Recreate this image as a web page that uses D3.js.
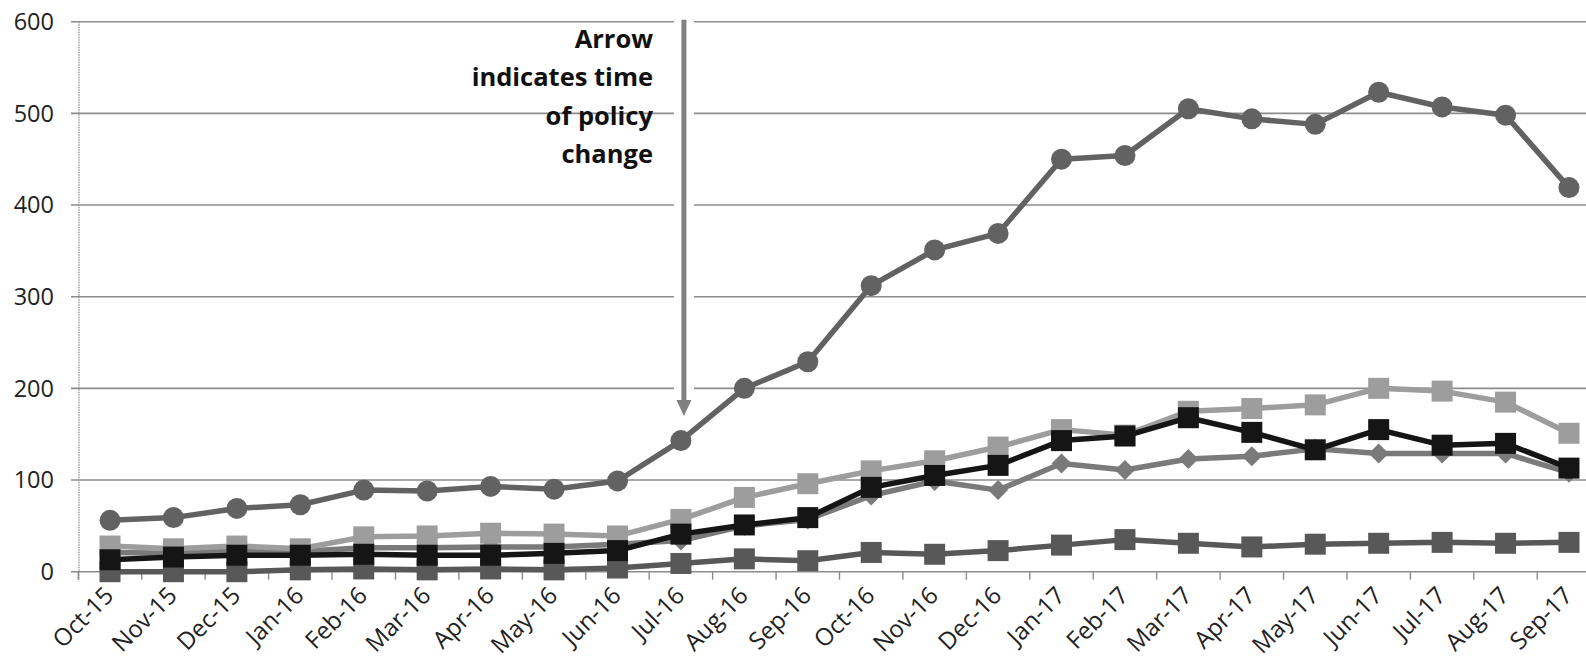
<!DOCTYPE html>
<html>
<head>
<meta charset="utf-8">
<script src="https://cdn.jsdelivr.net/npm/d3@7"></script>
<style>
  html, body { margin: 0; padding: 0; background: #fff; }
  svg { display: block; }
</style>
</head>
<body>
<svg id="chart" width="1586" height="663"></svg>
<script>
const categories = ["Oct-15","Nov-15","Dec-15","Jan-16","Feb-16","Mar-16","Apr-16","May-16","Jun-16","Jul-16","Aug-16","Sep-16","Oct-16","Nov-16","Dec-16","Jan-17","Feb-17","Mar-17","Apr-17","May-17","Jun-17","Jul-17","Aug-17","Sep-17"];
const yTicks = [0, 100, 200, 300, 400, 500, 600];

const circleSeries = [56, 59, 69, 73, 89, 88, 93, 90, 99, 143, 200, 229, 312, 351, 369, 450, 454, 505, 494, 488, 523, 507, 498, 419];
const lightSquares = [28, 25, 28, 25, 38, 39, 42, 41, 39, 57, 81, 96, 110, 121, 136, 155, 149, 175, 178, 182, 200, 197, 185, 151];
const blackSquares = [13, 16, 18, 18, 19, 18, 18, 20, 23, 41, 51, 59, 92, 105, 116, 143, 148, 168, 152, 133, 155, 138, 140, 113];
const diamonds = [21, 20, 23, 22, 26, 26, 27, 27, 30, 34, 50, 57, 83, 99, 89, 118, 111, 123, 126, 134, 129, 129, 129, 108];
const bottomSquares = [0, 0, 0, 2, 3, 2, 3, 2, 4, 9, 14, 12, 21, 19, 23, 29, 35, 31, 27, 30, 31, 32, 31, 32];

const annotationLines = ["Arrow", "indicates time", "of policy", "change"];
const policyMonth = "Jul-16";

const svg = d3.select("#chart");
const font = "'Open Sans', 'DejaVu Sans', sans-serif";

const x = d3.scaleBand().domain(categories).range([78.3, 1600.7]).padding(0);
const y = d3.scaleLinear().domain([0, 600]).range([571.7, 21.7]);
const cx = d => x(d) + x.bandwidth() / 2;

// gridlines
const grid = svg.append("g");
grid.selectAll("line").data(yTicks).join("line")
  .attr("x1", 71).attr("x2", 1600)
  .attr("y1", d => y(d)).attr("y2", d => y(d))
  .attr("stroke", "#8c8c8c").attr("stroke-width", 1.6);

// y labels
svg.append("g").selectAll("text").data(yTicks).join("text")
  .attr("x", 54).attr("y", d => y(d)).attr("dy", "0.36em")
  .attr("text-anchor", "end")
  .attr("font-family", font).attr("font-size", 23.5).attr("fill", "#222")
  .text(d => d);

// y axis line
svg.append("line").attr("x1", 79).attr("x2", 79).attr("y1", y(600)).attr("y2", y(0) + 8)
  .attr("stroke", "#999").attr("stroke-width", 1.4).attr("stroke-dasharray", "1.5,1");

// x ticks between categories
const bounds = categories.map(c => x(c)).concat([x(categories[categories.length-1]) + x.bandwidth()]);
svg.append("g").selectAll("line").data(bounds).join("line")
  .attr("x1", d => d).attr("x2", d => d)
  .attr("y1", y(0)).attr("y2", y(0) + 8)
  .attr("stroke", "#8c8c8c").attr("stroke-width", 1.4);

// x labels
svg.append("g").selectAll("text").data(categories).join("text")
  .attr("transform", d => `translate(${cx(d) + 5},${597}) rotate(-45)`)
  .attr("text-anchor", "end")
  .attr("font-family", font).attr("font-size", 24).attr("fill", "#222")
  .text(d => d);

// arrow annotation
const ax = cx(policyMonth) + 3;
svg.append("rect").attr("x", ax - 10).attr("y", y(600) - 3).attr("width", 20).attr("height", 380).attr("fill", "#fff");
svg.append("line").attr("x1", ax).attr("x2", ax).attr("y1", y(600) - 2).attr("y2", 402)
  .attr("stroke", "#808080").attr("stroke-width", 5);
svg.append("path")
  .attr("d", `M${ax - 7.5},400 L${ax + 7.5},400 L${ax},416 Z`)
  .attr("fill", "#808080");

svg.append("g").selectAll("text").data(annotationLines).join("text")
  .attr("x", 653).attr("y", (d, i) => 48 + i * 38.3)
  .attr("text-anchor", "end")
  .attr("font-family", font).attr("font-weight", 700).attr("font-size", 25.5).attr("fill", "#111")
  .text(d => d);

// series
const line = d3.line().x((d, i) => cx(categories[i])).y(d => y(d));
const series = [
  { vals: diamonds, color: "#7a7a7a", marker: "diamond", lw: 5.5 },
  { vals: bottomSquares, color: "#585858", marker: "square", lw: 5.5 },
  { vals: lightSquares, color: "#9d9d9d", marker: "square", lw: 5.5 },
  { vals: blackSquares, color: "#151515", marker: "square", lw: 5.5 },
  { vals: circleSeries, color: "#626262", marker: "circle", lw: 5.5 }
];

series.forEach(s => {
  const g = svg.append("g");
  g.append("path").datum(s.vals).attr("d", line)
    .attr("fill", "none").attr("stroke", s.color).attr("stroke-width", s.lw)
    .attr("stroke-linejoin", "round");
  const pts = g.selectAll(".m").data(s.vals).join(s.marker === "circle" ? "circle" : "path");
  if (s.marker === "circle") {
    pts.attr("cx", (d, i) => cx(categories[i])).attr("cy", d => y(d)).attr("r", 10.5)
      .attr("fill", s.color);
  } else if (s.marker === "square") {
    const h = 10.5;
    pts.attr("d", (d, i) => {
      const px = cx(categories[i]), py = y(d);
      return `M${px - h},${py - h}h${2 * h}v${2 * h}h${-2 * h}Z`;
    }).attr("fill", s.color);
  } else {
    const h = 10;
    pts.attr("d", (d, i) => {
      const px = cx(categories[i]), py = y(d);
      return `M${px},${py - h}L${px + h},${py}L${px},${py + h}L${px - h},${py}Z`;
    }).attr("fill", s.color);
  }
});
</script>
</body>
</html>
